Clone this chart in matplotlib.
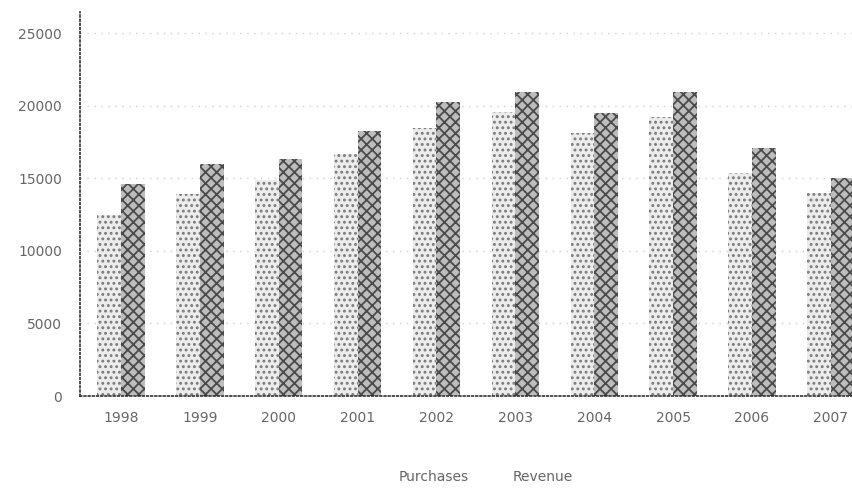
import numpy as np
import matplotlib.pyplot as plt
from matplotlib.patches import Patch

years = ["1998", "1999", "2000", "2001", "2002", "2003", "2004", "2005", "2006", "2007"]
purchases = [12500, 13900, 14900, 16700, 18450, 19550, 18100, 19200, 15350, 14000]
revenue = [14600, 16000, 16300, 18250, 20250, 20950, 19500, 20950, 17100, 15000]
yticks = [0, 5000, 10000, 15000, 20000, 25000]

plt.rcParams['hatch.linewidth'] = 1.3
fig = plt.figure(figsize=(8.52, 4.88), dpi=100)
ax = fig.add_axes([0.094, 0.1885, 0.906, 0.7865])

x = np.arange(len(years))
w = 0.30
ax.bar(x - w/2, purchases, w, color="#ececec", edgecolor="#7a7a7a", hatch="...", linewidth=0, zorder=2)
ax.bar(x + w/2, revenue, w, color="#bdbdbd", edgecolor="#4a4a4a", hatch="xxx", linewidth=0, zorder=2)

ax.set_xlim(-0.52, 9.27)
ax.set_ylim(0, 26450)
ax.set_yticks(yticks)
ax.set_yticklabels([str(v) for v in yticks])
ax.set_xticks(x)
ax.set_xticklabels(years)
ax.tick_params(axis="y", length=0, labelsize=10, colors="#666666", pad=13)
ax.tick_params(axis="x", length=0, labelsize=10, colors="#666666", pad=11)
ax.yaxis.grid(True, linestyle=(0, (1, 4)), color="#cfcfcf", linewidth=1)
ax.set_axisbelow(True)

for s in ["top", "right"]:
    ax.spines[s].set_visible(False)
for s in ["left", "bottom"]:
    ax.spines[s].set_linestyle((0, (1, 1.5)))
    ax.spines[s].set_color("#333333")
    ax.spines[s].set_linewidth(1.2)

handles = [Patch(color="none", label="Purchases"), Patch(color="none", label="Revenue")]
fig.legend(handles=handles, loc="center", bbox_to_anchor=(0.57, 0.022), ncol=2,
           frameon=False, handlelength=0, handletextpad=0, columnspacing=3.2,
           fontsize=10, labelcolor="#666666")

fig.savefig("out.png", dpi=100)
